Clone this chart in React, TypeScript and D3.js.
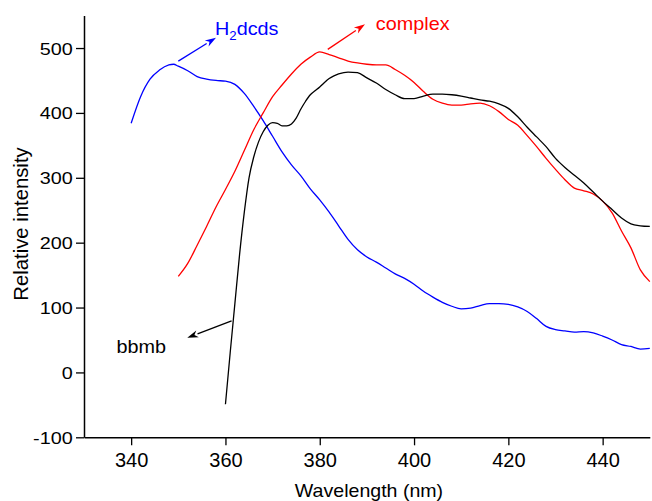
import React, { useEffect, useRef } from 'react';
import * as d3 from 'd3';

const W = 652;
const H = 501;

// H2dcds (blue)
const blueX = [340, 342, 344, 346, 348, 349, 350, 352, 354, 356, 358, 360, 362, 364, 366, 368, 370, 372, 374, 376, 378, 380, 382, 384, 386, 388, 390, 392, 394, 396, 398, 400, 402, 404, 406, 408, 410, 412, 414, 416, 418, 420, 422, 424, 426, 428, 430, 432, 434, 436, 438, 440, 442, 444, 446, 448, 450];
const blueY = [384, 425, 452, 466, 474, 475, 472, 465, 456, 452, 450, 449, 444, 430, 410, 388, 364, 340, 320, 303, 283, 266, 247, 226, 205, 189, 178, 170, 161, 152, 145, 136, 125, 116, 108, 102, 98, 99, 103, 106, 106, 105, 101, 94, 83, 71, 66, 64, 62, 63, 61, 56, 50, 43, 40, 36, 37];

// complex (red)
const redX = [350, 352, 354, 356, 358, 360, 362, 364, 366, 368, 370, 372, 374, 376, 378, 380, 382, 384, 386, 388, 390, 392, 394, 396, 398, 400, 402, 404, 406, 408, 410, 412, 414, 416, 418, 420, 422, 424, 426, 428, 430, 432, 434, 436, 438, 440, 442, 444, 446, 448, 450];
const redY = [148, 168, 196, 225, 255, 282, 310, 342, 374, 400, 425, 443, 460, 475, 486, 494, 490, 485, 480, 477, 475, 474, 474, 467, 458, 447, 433, 421, 415, 412, 412, 414, 415, 411, 402, 390, 381, 365, 348, 330, 313, 297, 284, 280, 275, 264, 246, 218, 192, 158, 140];

// bbmb (black)
const blackX = [360, 361, 362, 363, 364, 365, 366, 367, 368, 369, 370, 371, 372, 373, 374, 375, 376, 377, 378, 379, 380, 381, 382, 383, 384, 386, 388, 390, 392, 394, 396, 398, 400, 402, 404, 406, 408, 410, 412, 414, 416, 418, 420, 422, 424, 426, 428, 430, 432, 434, 436, 438, 440, 442, 444, 446, 448, 450];
const blackY = [-49, 30, 106, 182, 247, 300, 332, 355, 371, 381, 385, 384, 380, 380, 383, 392, 406, 418, 428, 434, 440, 447, 453, 457, 460, 463, 462, 454, 446, 436, 428, 422, 422, 426, 429, 429, 428, 426, 423, 420, 418, 414, 407, 394, 378, 363, 348, 330, 316, 304, 292, 278, 264, 251, 238, 229, 226, 225];

const xMajorTicks = [340, 360, 380, 400, 420, 440];
const xMinorTicks = [350, 370, 390, 410, 430, 450];
const yMajorTicks = [-100, 0, 100, 200, 300, 400, 500];
const yMinorTicks = [-50, 50, 150, 250, 350, 450];

// annotations in data units: label, colour, text pos, arrow start, arrow end
const annLabels = ['H2dcds', 'complex', 'bbmb'];
const annColors = ['#0000ff', '#ff0000', '#000000'];
const annText = [[357.8, 520], [391.9, 527.8], [336.9, 29.3]];
const annFrom = [[350.0, 479.8], [381.7, 498], [361.3, 79.5]];
const annTo = [[358.0, 516], [389.6, 536.5], [351.9, 53.3]];

const FONT = '"Liberation Sans", Arial, sans-serif';

export default function App() {
  const ref = useRef<SVGSVGElement>(null);

  useEffect(() => {
    const svg = d3.select(ref.current);
    svg.selectAll('*').remove();

    const x = d3.scaleLinear().domain([330, 450]).range([84, 649.8]);
    const y = d3.scaleLinear().domain([-100, 550]).range([437.3, 15.6]);

    const line = d3
      .line<[number, number]>()
      .x((d) => x(d[0]))
      .y((d) => y(d[1]))
      .curve(d3.curveMonotoneX);

    const series = [
      { xs: blueX, ys: blueY, c: '#0000ff' },
      { xs: redX, ys: redY, c: '#ff0000' },
      { xs: blackX, ys: blackY, c: '#000000' },
    ];
    series.forEach((s) => {
      svg
        .append('path')
        .attr('d', line(s.xs.map((v, i) => [v, s.ys[i]] as [number, number])))
        .attr('fill', 'none')
        .attr('stroke', s.c)
        .attr('stroke-width', 1.3);
    });

    const fmt = (d: any) => String(d);

    // X axis
    const gx = svg.append('g').attr('transform', `translate(0,${y(-100)})`);
    gx.call(d3.axisBottom(x).tickValues(xMinorTicks).tickSize(5).tickSizeOuter(0).tickFormat(() => ''));
    gx.call(d3.axisBottom(x).tickValues(xMajorTicks).tickSize(8).tickSizeOuter(0).tickFormat(fmt));
    gx.selectAll('path.domain').attr('stroke', '#000').attr('stroke-width', 1.5);
    gx.selectAll('line').attr('stroke', '#000').attr('stroke-width', 1.3);
    gx.selectAll('text')
      .attr('y', 29.4)
      .attr('dy', null)
      .attr('fill', '#000')
      .style('font-family', FONT)
      .style('font-size', '20px');

    // Y axis
    const gy = svg.append('g').attr('transform', `translate(${x(330)},0)`);
    gy.call(d3.axisLeft(y).tickValues(yMinorTicks).tickSize(5).tickSizeOuter(0).tickFormat(() => ''));
    gy.call(d3.axisLeft(y).tickValues(yMajorTicks).tickSize(8).tickSizeOuter(0).tickFormat(fmt));
    gy.selectAll('path.domain').attr('stroke', '#000').attr('stroke-width', 1.5);
    gy.selectAll('line').attr('stroke', '#000').attr('stroke-width', 1.3);
    gy.selectAll('text')
      .attr('x', 0)
      .attr('dy', '0.36em')
      .attr('transform', 'translate(-11.3,0) scale(1.18,1)')
      .attr('fill', '#000')
      .style('font-family', FONT)
      .style('font-size', '16.8px');

    // Axis titles
    svg
      .append('text')
      .attr('transform', `translate(369,497) scale(1.1,1)`)
      .attr('text-anchor', 'middle')
      .style('font-family', FONT)
      .style('font-size', '17.8px')
      .text('Wavelength (nm)');
    svg
      .append('text')
      .attr('transform', `translate(27.5,224) rotate(-90)`)
      .attr('text-anchor', 'middle')
      .style('font-family', FONT)
      .style('font-size', '20.3px')
      .text('Relative intensity');

    // Annotations
    annLabels.forEach((lab, i) => {
      const c = annColors[i];
      const x1 = x(annFrom[i][0]);
      const y1 = y(annFrom[i][1]);
      const x2 = x(annTo[i][0]);
      const y2 = y(annTo[i][1]);
      const ang = Math.atan2(y2 - y1, x2 - x1);
      const hl = 11;
      const hw = 3.6;
      const bx = x2 - hl * Math.cos(ang);
      const by = y2 - hl * Math.sin(ang);
      svg
        .append('line')
        .attr('x1', x1)
        .attr('y1', y1)
        .attr('x2', bx)
        .attr('y2', by)
        .attr('stroke', c)
        .attr('stroke-width', 1.3);
      const px = -Math.sin(ang);
      const py = Math.cos(ang);
      svg
        .append('path')
        .attr(
          'd',
          `M${x2},${y2}L${bx + hw * px},${by + hw * py}L${bx + 0.3 * hl * Math.cos(ang)},${by + 0.3 * hl * Math.sin(ang)}L${bx - hw * px},${by - hw * py}Z`
        )
        .attr('fill', c);

      const tx = x(annText[i][0]);
      const ty = y(annText[i][1]);
      const t = svg
        .append('text')
        .attr('transform', `translate(${tx},${ty}) scale(1.1,1)`)
        .attr('fill', c)
        .style('font-family', FONT)
        .style('font-size', '18px');
      if (lab === 'H2dcds') {
        t.append('tspan').text('H');
        t.append('tspan').attr('dy', 4.5).style('font-size', '12px').text('2');
        t.append('tspan').attr('dy', -4.5).text('dcds');
      } else {
        t.text(lab);
      }
    });
  }, []);

  return (
    <svg
      ref={ref}
      width={W}
      height={H}
      style={{ position: 'absolute', left: 0, top: 0, background: '#fff' }}
    />
  );
}
